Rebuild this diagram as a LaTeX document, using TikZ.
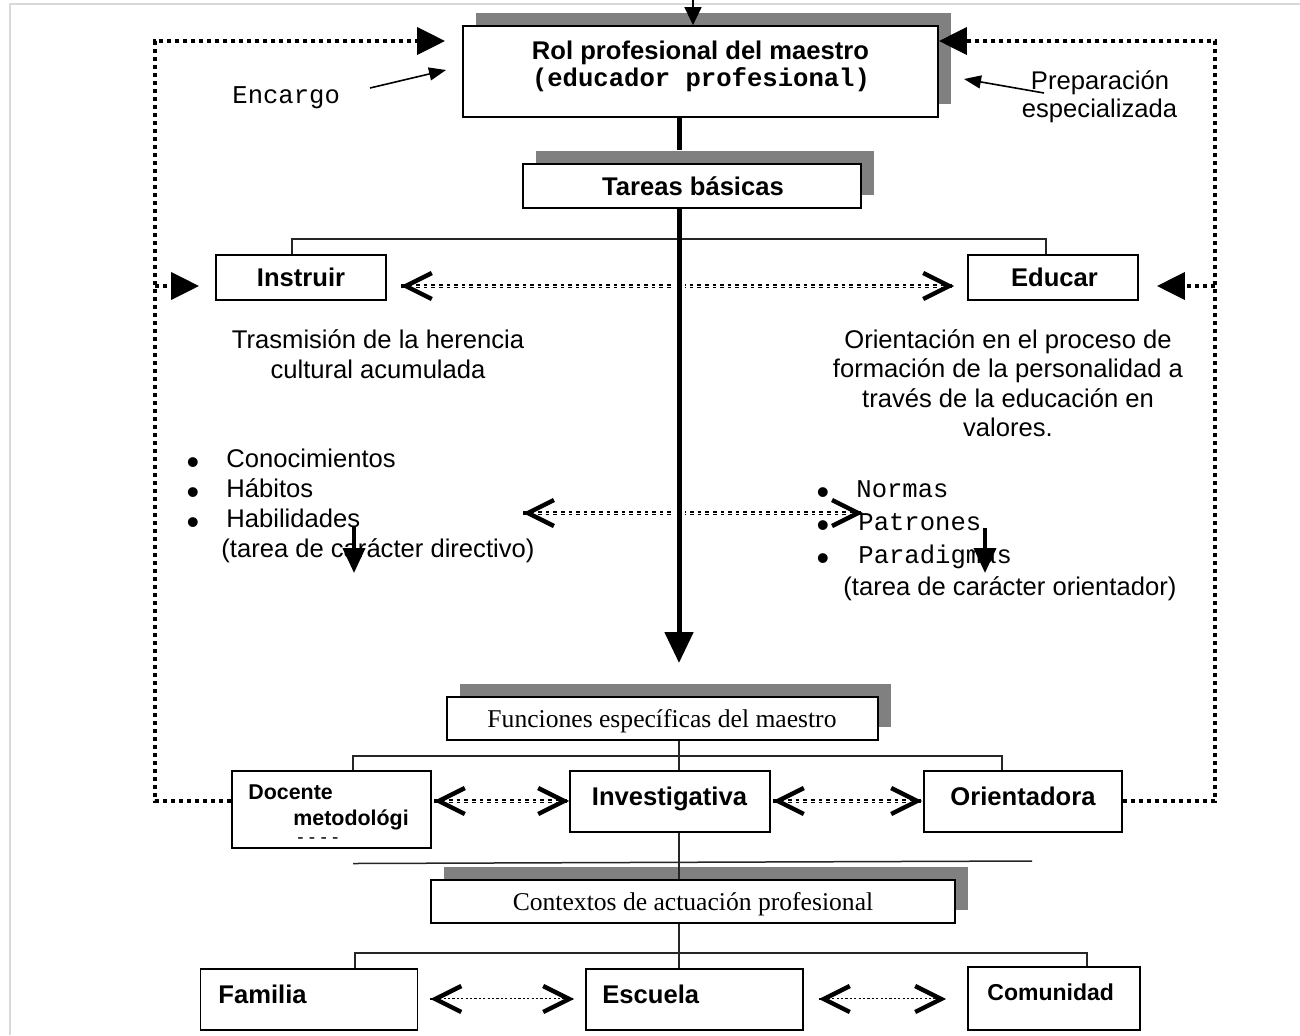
\documentclass[tikz,border=0pt]{standalone}
\usepackage{fontspec}
\setmainfont{Liberation Serif}
\setsansfont{Liberation Sans}
\setmonofont{Liberation Mono}
\usetikzlibrary{arrows.meta,shadows}
\definecolor{shadowgray}{RGB}{128,128,128}

\begin{document}
\fontsize{12.8}{15}\selectfont\sffamily
\begin{tikzpicture}[x=0.5pt, y=-0.5pt,
  box/.style={draw, line width=0.9pt, fill=white, inner sep=0pt},
  shadowed/.style={drop shadow={shadow xshift=6.5pt, shadow yshift=6.5pt, fill=shadowgray, opacity=1}},
  lbl/.style={anchor=base, inner sep=0pt},
  lblw/.style={anchor=base west, inner sep=0pt},
  bul/.style={anchor=base, inner sep=0pt, font=\fontsize{18}{18}\selectfont},
  branch/.style={line width=0.75pt, black!85},
  trunk/.style={line width=2.5pt, -{Triangle[length=15.5pt, width=14pt]}},
  loopline/.style={line width=2pt, dash pattern=on 2.2pt off 1.8pt},
  looptip/.style={-{Triangle[length=14pt, width=13.5pt]}},
  barb/.tip={Straight Barb[length=13pt, width=13pt, line width'=2.2pt, sharp, color=black]},
  chev/.style={line width=1.6pt, dash pattern=on 1.8pt off 2pt, postaction={draw=white, solid, barb-barb, line width=0.1pt}},
  chevfine/.style={chev, line width=1.1pt, dash pattern=on 1.1pt off 1.1pt},
  thinarr/.style={line width=0.8pt, -{Triangle[length=8.5pt, width=6.5pt]}},
  downarr/.style={line width=2pt, -{Triangle[length=12.5pt, width=11pt]}}]
\useasboundingbox (0,0) rectangle (1300,1035);
% x, y in pixels of the 1300 x 1035 page (half a point each), y downwards
\draw[gray!30, line width=0.75pt] (1300,4) -- (10,4) -- (10,1035);

% boxes
\foreach \n/\x/\y/\w/\h in {rol/700.5/71.5/237.5/45.5, tareas/692/186/169/22, funciones/662.5/718.5/215.5/21.5, contextos/693/901.5/262/21.5}
  \node[box, shadowed, minimum width=\w pt, minimum height=\h pt] (\n) at (\x,\y) {};
\foreach \n/\x/\y/\w/\h in {instruir/301/277.5/85/22.5, educar/1053/277.5/85/22.5, docente/331.5/809.5/99.5/38.5, investigativa/670/801.5/100/30.5, orientadora/1023/801.5/99/30.5, familia/309/999.5/108.5/30.5, escuela/694.5/999.5/108.5/30.5, comunidad/1054/998.5/86/31.5}
  \node[box, minimum width=\w pt, minimum height=\h pt] (\n) at (\x,\y) {};

% texts
\node[lbl, font=\bfseries] (rolA) at (700.5,59) {Rol profesional del maestro};
\node[lbl, font=\ttfamily\bfseries] (rolB) at (701,86) {(educador profesional)};
\node[lblw, font=\ttfamily] (encargo) at (232,103) {Encargo};
\node[lbl] (prepA) at (1100,89) {Preparación};
\node[lbl] (prepB) at (1099.5,117) {especializada};
\foreach \n/\x/\y/\t in {tareasT/693/195/Tareas básicas, instruirT/301/286/Instruir, educarT/1054.5/286/Educar}
  \node[lbl, font=\bfseries] (\n) at (\x,\y) {\t};
\foreach \n/\x/\y/\t in {trA/378/348/Trasmisión de la herencia, trB/378/378/cultural acumulada, orA/1008/348/Orientación en el proceso de, orB/1008/377.5/formación de la personalidad a, orC/1008/407/través de la educación en, orD/1008/436.5/valores.}
  \node[lbl] (\n) at (\x,\y) {\t};
\foreach \n/\y/\t in {cono/467/Conocimientos, habit/497/Hábitos, habil/527/Habilidades}
  { \node[bul] (b\n) at (193,\y+7) {•}; \node[lblw] (\n) at (226,\y) {\t}; }
\node[lblw] (directivo) at (221,557) {(tarea de carácter directivo)};
\foreach \n/\x/\y/\t in {normas/856/497/Normas, patrones/858/530/Patrones, paradigmas/858/563/Paradigmas}
  { \node[bul] (b\n) at (823,\y+7) {•}; \node[lblw, font=\ttfamily] (\n) at (\x,\y) {\t}; }
\node[lblw] (orientador) at (843,595) {(tarea de carácter orientador)};
\node[lbl, font=\rmfamily] (funcionesT) at (662,727) {Funciones específicas del maestro};
\node[lblw, font=\bfseries\fontsize{10.7}{12}\selectfont] (docA) at (248,799) {Docente};
\node[lblw, font=\bfseries\fontsize{10.7}{12}\selectfont] (docB) at (293,825) {metodológi};
\node[lblw, font=\fontsize{9.5}{11}\selectfont] (docC) at (297,843) {- - - -};
\node[lbl, font=\bfseries] (investigativaT) at (669.5,805) {Investigativa};
\node[lbl, font=\bfseries] (orientadoraT) at (1023,805) {Orientadora};
\node[lbl, font=\rmfamily] (contextosT) at (693,910) {Contextos de actuación profesional};
\node[lblw, font=\bfseries] (familiaT) at (218,1003) {Familia};
\node[lblw, font=\bfseries] (escuelaT) at (602,1003) {Escuela};
\node[lblw, font=\bfseries\fontsize{11.5}{13}\selectfont] (comunidadT) at (987,1000) {Comunidad};

% anchors for the free ends
\coordinate (tip) at (679,663);
\coordinate (feed) at (693,0);
\coordinate (lt) at (155,41); \coordinate (lb) at (155,801);
\coordinate (rt) at (1215,41); \coordinate (rb) at (1215,801);
\coordinate (row1) at (0,286); \coordinate (row3) at (0,801); \coordinate (row4) at (0,999);
\coordinate (ml) at (523,513); \coordinate (mr) at (863,513);
\coordinate (bi) at (292,239); \coordinate (be) at (1046,239);
\coordinate (bd) at (353,756); \coordinate (bo) at (1002,756);
\coordinate (bf) at (355,953); \coordinate (bc) at (1087,953);
\coordinate (encA) at (370,88); \coordinate (encB) at (446,70);
\coordinate (prepC) at (1044,93); \coordinate (prepD) at (964,79);
\coordinate (dirA) at (354,527); \coordinate (oriA) at (985,528);

% dotted feedback loops
\draw[loopline, looptip, shorten >=8.5pt] (docente.west |- lb) -- (lb) -- (lt) -- (rol.west |- lt);
\draw[loopline, looptip, shorten >=8pt] (lb |- row1) -- (instruir.west |- row1);
\draw[loopline, looptip] (orientadora.east |- rb) -- (rb) -- (rt) -- (rol.east |- rt);
\draw[loopline, looptip, shorten >=9pt] (rb |- row1) -- (educar.east |- row1);

% dotted two-way arrows
\draw[chev, shorten <=7pt, shorten >=6.5pt] (instruir.east |- row1) -- (educar.west |- row1);
\draw[chev] (ml) -- (mr);
\draw[chev, shorten <=1pt] (docente.east |- row3) -- (investigativa.west |- row3);
\draw[chev, shorten <=1pt, shorten >=0.5pt] (investigativa.east |- row3) -- (orientadora.west |- row3);
\draw[chevfine, shorten <=6pt, shorten >=5.5pt] (familia.east |- row4) -- (escuela.west |- row4);
\draw[chevfine, shorten <=7.5pt, shorten >=10.5pt] (escuela.east |- row4) -- (comunidad.west |- row4);

% main line
\draw[white, line width=6pt] ([yshift=-4pt]tareas.south -| tip) -- ([yshift=16pt]tip);
\draw[branch] (instruir.north -| bi) -- (bi) -- (be) -- (educar.north -| be);
\draw[line width=2.5pt] (rol.south -| tip) -- ([yshift=6.5pt]tareas.north -| tip);
\draw[trunk] (tareas.south -| tip) -- (tip);

% functions and contexts
\draw[branch] (funciones.south -| tip) -- (investigativa.north -| tip);
\draw[branch] (docente.north -| bd) -- (bd) -- (bo) -- (orientadora.north -| bo);
\draw[branch] (investigativa.south -| tip) -- (contextos.north -| tip);
\draw[branch] (353,863.5) -- (1032,861);
\draw[branch] (contextos.south -| tip) -- (escuela.north -| tip);
\draw[branch] (familia.north -| bf) -- (bf) -- (bc) -- (comunidad.north -| bc);

% small arrows
\draw[line width=0.8pt, -{Triangle[length=9pt, width=8.5pt]}] (feed) -- (rol.north -| feed);
\draw[thinarr] (encA) -- (encB);
\draw[thinarr] (prepC) -- (prepD);
\draw[downarr] (dirA) -- ++(0,46);
\draw[downarr] (oriA) -- ++(0,45);
\end{tikzpicture}
\end{document}
